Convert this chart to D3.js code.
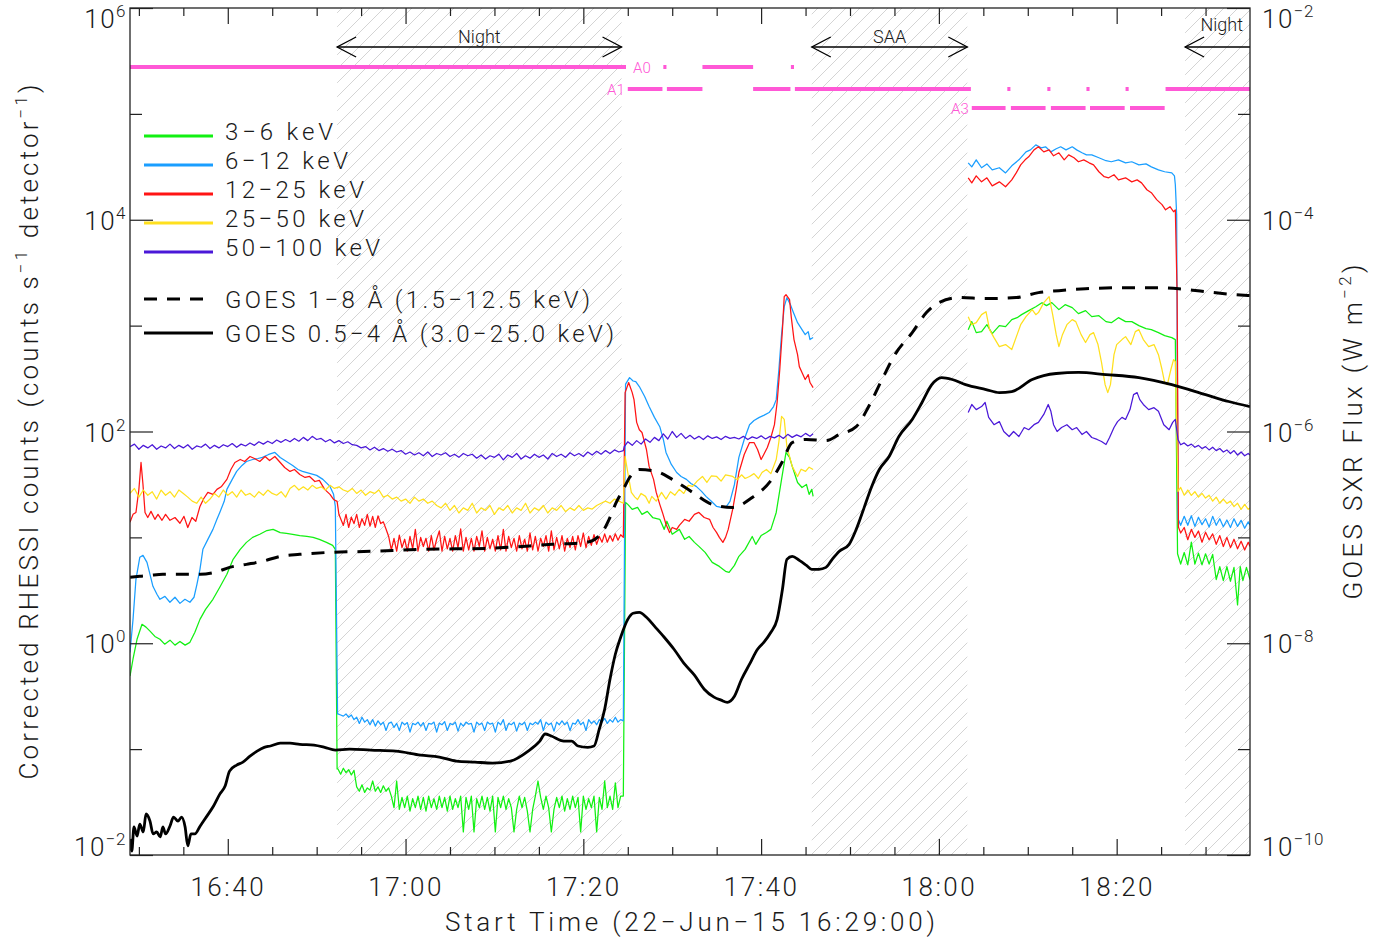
<!DOCTYPE html>
<html>
<head>
<meta charset="utf-8">
<title>RHESSI and GOES light curves, 22 June 2015</title>
<script src="https://cdn.jsdelivr.net/npm/d3@7/dist/d3.min.js"></script>
<style>
  html, body { margin: 0; padding: 0; background: #ffffff; }
  svg { display: block; }
  text { font-family: Roboto, "DejaVu Sans", sans-serif; font-weight: 300; fill: #1a1a1a; }
</style>
</head>
<body>
<svg id="chart" width="1387" height="940"></svg>
<script>
// ---------------------------------------------------------------------------
// Data: time is in minutes after the start time 22-Jun-2015 16:29:00 UT.
// RHESSI rates in counts s^-1 detector^-1, GOES fluxes in W m^-2.
// ---------------------------------------------------------------------------
const startUTC = Date.UTC(2015, 5, 22, 16, 29, 0);
const spanMinutes = 126;

const bandNames = ["3\u22126 keV", "6\u221212 keV", "12\u221225 keV", "25\u221250 keV", "50\u2212100 keV"];
const goesNames = ["GOES 1\u22128 \u00C5 (1.5\u221212.5 keV)", "GOES 0.5\u22124 \u00C5 (3.0\u221225.0 keV)"];

// orbit intervals with no usable RHESSI data
const orbitGaps = [[23.3, 55.3], [76.7, 94.2], [118.7, 126]];
const orbitGapNames = ["Night", "SAA", "Night"];

// attenuator states
const attenA0 = [[0, 55.8], [60.0, 60.35], [64.4, 70.1], [74.35, 74.7]];
const attenA1 = [[56.0, 59.9], [60.4, 64.4], [70.1, 74.3], [74.8, 94.6], [98.7, 99.05], [103.2, 103.55], [107.6, 107.95], [112.0, 112.35], [116.5, 126]];
const attenA3 = [[94.7, 98.5], [99.1, 103.0], [103.6, 107.5], [108.0, 111.9], [112.5, 116.4]];

// ---- 3-6 keV ----
const greenEarly = [[0,0.49],[0.34,0.71],[0.79,1.09],[1.35,1.51],[1.8,1.42],[2.25,1.30],[2.8,1.16],[3.37,1.09],[3.9,0.98],[4.5,1.07],[5.06,0.96],[5.62,1.04],[6.2,0.96],[6.74,1.02],[7.3,1.27],[7.87,1.68],[8.5,2.09],[9.33,2.6],[10.1,3.38],[10.9,4.48],[11.6,6.2],[12.4,7.71],[13.1,8.97],[13.8,10.0],[14.6,10.7],[15.4,11.6],[16.1,11.9],[16.9,11.1],[17.6,10.9],[18.3,10.7],[19.1,10.4],[19.9,10.2],[20.6,10.0],[21.3,9.58],[22.1,8.97],[22.8,8.4],[23.1,7.71],[23.3,0.065]];
const greenNight = [0.065,0.058,0.066,0.060,0.064,0.057,0.063,
  0.044,0.040,0.046,0.039,0.043,0.041,0.050,0.040,0.044,0.039,0.045,0.040,0.043,
  0.036,0.028,0.050,0.027,0.035,0.028,0.036,0.026,0.034,0.028,
  0.036,0.027,0.035,0.026,0.036,0.028,0.034,0.027,0.036,0.028,
  0.035,0.026,0.036,0.027,0.034,0.028,0.036,0.0165,0.035,0.027,
  0.036,0.0165,0.034,0.028,0.036,0.027,0.035,0.026,0.036,0.0165,
  0.035,0.028,0.036,0.027,0.034,0.028,0.0165,0.027,0.036,0.028,
  0.035,0.026,0.0165,0.027,0.036,0.050,0.035,0.027,0.036,0.028,
  0.0165,0.027,0.035,0.028,0.036,0.026,0.034,0.027,0.036,0.028,
  0.035,0.0165,0.036,0.027,0.034,0.028,0.036,0.0165,0.035,0.027,
  0.050,0.028,0.036,0.027,0.048,0.028,0.036];
const greenFlare = [[55.5,0.036],[55.75,21.4],[56.0,20.5],[56.5,18.4],[57.1,19.2],[57.6,16.5],[58.2,17.6],[58.8,15.4],[59.6,14.8],[60.1,11.9],[60.4,14.2],[61.0,10.7],[61.8,11.9],[62.4,9.58],[62.9,10.2],[63.5,8.97],[64.0,8.22],[64.7,7.22],[65.5,5.81],[66.3,5.32],[67.0,4.78],[67.4,4.68],[68.0,5.44],[68.5,6.62],[69.2,7.71],[70.0,10.2],[70.4,8.59],[71.0,10.4],[71.6,11.1],[72.1,11.9],[72.7,17.2],[73.3,35.3],[73.8,63.4],[74.2,56.9],[74.5,46.8],[75.1,33.0],[75.6,29.6],[76.1,31.6],[76.4,25.5],[76.7,28.4],[76.85,24.4]];
const greenLate = [[94.3,916],[94.7,1091],[95.2,859],[95.8,878],[96.4,1021],[97.0,841],[97.8,1000],[98.5,979],[99.2,1140],[99.8,1189],[100.3,1270],[101.1,1387],[101.9,1510],[102.6,1648],[103.1,1545],[103.7,1648],[104.5,1416],[105.2,1578],[106.0,1479],[106.7,1298],[107.5,1387],[108.2,1216],[109.0,1242],[109.8,1091],[110.4,1067],[111.2,1189],[112.0,1091],[112.7,1091],[113.5,1000],[114.3,937],[114.9,916],[115.7,859],[116.4,805],[117.2,771],[117.6,738],[117.85,7.0]];
const greenTail = [[118.2,5.6],[118.6,7.2],[119,5.5],[119.4,9.0],[119.8,5.6],[120.2,7.1],[120.6,5.5],[121,7.0],[121.4,5.6],[121.8,6.9],[122.2,4.0],[122.6,5.3],[123,3.9],[123.4,5.3],[123.8,3.85],[124.2,5.2],[124.6,2.3],[124.9,5.3],[125.2,3.9],[125.6,5.2],[126,4.0]];

// ---- 6-12 keV ----
const blueEarly = [[0,0.82],[0.34,1.68],[0.67,4.02],[1.1,6.48],[1.46,6.76],[1.91,5.81],[2.25,4.48],[2.58,3.45],[3.03,2.90],[3.37,2.60],[3.93,2.77],[4.49,2.44],[5.06,2.72],[5.62,2.38],[6.18,2.60],[6.74,2.44],[7.2,2.72],[7.53,3.60],[7.87,4.99],[8.2,7.71],[8.76,9.58],[9.33,11.9],[9.78,14.8],[10.1,17.2],[10.6,21.9],[10.9,28.4],[11.5,35.3],[12.0,42.0],[12.6,47.8],[13.1,52.1],[13.8,54.4],[14.4,55.6],[14.9,56.9],[15.6,60.7],[16.3,63.4],[16.9,56.9],[17.6,52.1],[18.3,47.8],[18.9,43.8],[19.4,42.0],[20.2,40.2],[21.0,38.5],[21.7,35.3],[22.5,30.3],[22.9,25.5],[23.1,19.6],[23.35,0.215]];
const blueNight = [0.215,0.21,0.205,0.215,0.20,0.21,0.19,0.20,0.175,0.20,
  0.18,0.19,0.17,0.19,0.165,0.185,0.17,0.18,0.15,0.175,
  0.18,0.16,0.175,0.15,0.18,0.17,0.178,0.145,0.175,0.17,
  0.18,0.165,0.178,0.15,0.175,0.172,0.18,0.145,0.176,0.17,
  0.182,0.15,0.175,0.17,0.18,0.148,0.176,0.165,0.18,0.172,
  0.175,0.145,0.18,0.17,0.176,0.15,0.18,0.172,0.176,0.145,
  0.18,0.17,0.19,0.15,0.175,0.17,0.18,0.148,0.176,0.17,
  0.18,0.15,0.176,0.17,0.18,0.172,0.19,0.15,0.18,0.17,
  0.176,0.148,0.18,0.17,0.185,0.17,0.18,0.15,0.176,0.172,
  0.19,0.17,0.18,0.15,0.19,0.175,0.185,0.17,0.19,0.18,
  0.195,0.175,0.19,0.18,0.2,0.18,0.19,0.185];
const blueFlare = [[55.75,280],[56.2,323],[56.6,300],[56.9,296],[57.3,266],[57.9,214],[58.4,172],[59.0,136],[59.6,111],[60.0,84.1],[60.3,63.4],[60.9,48.9],[61.5,41.0],[62.0,37.6],[62.6,35.3],[63.1,32.3],[63.7,30.3],[64.3,27.2],[64.8,24.4],[65.4,21.9],[66.0,19.6],[66.5,19.2],[67.1,19.6],[67.5,21.9],[68.0,31.6],[68.5,56.9],[69.1,84.1],[69.7,116],[70.2,127],[70.8,136],[71.3,142],[71.9,151],[72.4,172],[72.7,200],[73.0,385],[73.3,822],[73.6,1510],[73.9,1837],[74.3,1578],[74.6,1355],[75.1,1067],[75.6,916],[75.96,822],[76.3,878],[76.5,738],[76.85,771]];
const blueLate = [[94.3,34500],[94.7,31600],[95.2,36800],[95.8,31000],[96.4,33700],[97.0,29600],[97.8,31000],[98.5,27700],[99.2,32300],[100.0,36800],[100.8,43800],[101.3,45700],[101.9,51000],[102.5,47800],[103.0,48900],[103.6,43800],[104.2,46800],[104.7,48900],[105.3,45700],[106.0,48900],[106.5,45700],[107.1,42900],[107.6,41000],[108.2,41000],[109.0,38500],[109.8,36100],[110.4,35300],[111.2,36800],[112.0,34500],[112.7,35300],[113.5,33000],[114.3,33700],[114.9,31600],[115.7,29600],[116.4,28400],[117.2,27700],[117.5,26000],[117.6,21400],[117.75,11100],[117.9,15]];
const blueTail = [[118.2,13],[118.6,15.8],[119,13],[119.4,16],[119.8,12.7],[120.2,15.5],[120.6,13.2],[121,15],[121.4,12.5],[121.8,15.8],[122.2,13],[122.6,15],[123,12.6],[123.4,14.6],[123.8,12.4],[124.2,15],[124.6,12.7],[125,14.5],[125.4,12.2],[125.8,14],[126,13]];

// ---- 12-25 keV ----
const redEarly = [[0,13.9],[0.34,16.5],[0.67,17.2],[1.0,28.4],[1.24,51.0],[1.46,31.6],[1.69,17.2],[2.0,15.4],[2.36,17.6],[2.8,14.8],[3.15,16.5],[3.6,14.5],[4.0,16.5],[4.5,14.5],[5.06,15.4],[5.62,13.6],[6.07,15.8],[6.5,12.4],[6.97,15.4],[7.4,14.2],[7.87,19.6],[8.3,23.3],[8.76,26.6],[9.33,25.5],[9.78,28.4],[10.3,30.3],[10.9,35.3],[11.35,43.8],[11.8,51.0],[12.4,54.4],[12.9,52.1],[13.5,58.1],[14.0,55.6],[14.6,52.1],[15.2,58.1],[15.7,53.2],[16.3,58.1],[16.9,51.0],[17.4,45.7],[18.0,42.0],[18.5,43.8],[19.1,39.3],[19.7,36.8],[20.2,37.6],[20.8,33.7],[21.3,34.5],[21.9,28.4],[22.5,25.5],[22.9,22.8],[23.3,21.9],[23.5,16.5]];
const redNight = [15,13,16.5,12.4,15.5,13.5,16.5,12.4,15,13,
  16.5,12.8,15.8,12.4,16,13.5,14,12,10.2,7.6,
  9.8,7.4,10.5,8.0,9.6,7.4,10.2,7.8,11.9,7.4,
  10.0,8.2,9.8,7.4,10.4,7.6,9.6,11.5,7.4,10.2,
  7.8,9.8,7.4,10.4,8.0,12.0,7.4,10.0,7.6,9.8,
  7.4,10.2,8.2,11.5,7.4,10.0,7.8,9.6,7.4,10.4,
  7.6,11.9,7.4,10.2,8.0,9.8,7.4,10.4,7.8,9.6,
  7.4,11.0,7.6,10.2,7.4,9.8,8.2,10.4,7.4,11.5,
  7.6,10.0,7.8,10.4,7.4,9.8,8.0,10.2,7.6,10.4,
  8.2,11.0,8.0,10.2,8.4,10.6,8.6,10.2,9.0,10.8,
  9.0,10.4,9.2,10.8,9.4,10.6];
const redFlare = [[55.5,10],[55.7,233],[56.1,290],[56.5,233],[56.7,200],[57.0,122],[57.3,104],[57.6,97.9],[58.1,67.6],[58.4,46.8],[58.9,35.3],[59.2,26.6],[59.6,20.5],[59.9,17.2],[60.3,13.3],[60.7,11.1],[61.0,12.4],[61.5,11.9],[61.8,13.0],[62.4,14.8],[62.9,14.2],[63.5,16.5],[64.0,17.2],[64.6,15.4],[65.2,14.8],[65.6,12.4],[66.0,11.1],[66.3,10.0],[66.7,8.97],[67.0,10.0],[67.3,11.9],[67.8,18.4],[68.2,28.4],[68.5,41.0],[69.1,60.7],[69.7,78.7],[70.2,78.7],[70.6,67.6],[71.0,54.4],[71.3,60.7],[71.7,70.6],[72.1,87.7],[72.5,116],[72.8,188],[73.1,385],[73.4,916],[73.6,1879],[73.8,1959],[74.2,1758],[74.4,1189],[74.7,738],[75.1,532],[75.3,410],[75.6,361],[75.96,310],[76.3,345],[76.5,290],[76.85,260]];
const redLate = [[94.3,24900],[94.7,22300],[95.2,26000],[95.8,22800],[96.4,24900],[97.0,20900],[97.8,22800],[98.5,20500],[99.2,23800],[99.7,27700],[100.2,33000],[100.7,36800],[101.1,39300],[101.7,45700],[102.2,48900],[102.8,43800],[103.4,45700],[103.9,40200],[104.5,42900],[105.1,36800],[105.6,41000],[106.2,38500],[106.7,35300],[107.3,36800],[107.9,34500],[108.4,33000],[109.0,28400],[109.6,25500],[110.1,24900],[110.7,26600],[111.2,23800],[112.0,24900],[112.7,22800],[113.3,23800],[113.8,22300],[114.4,19200],[114.9,18000],[115.5,15500],[116.1,13900],[116.5,12400],[117.0,13300],[117.4,11900],[117.6,12400],[117.8,2000],[117.95,12.5]];
const redTail = [[118.2,11],[118.6,12.4],[119,9.5],[119.4,11.9],[119.8,10],[120.2,11.5],[120.6,9],[121,11.2],[121.4,9.5],[121.8,10.8],[122.2,8.6],[122.6,10.4],[123,8.2],[123.4,10],[123.8,8],[124.2,9.6],[124.6,7.8],[125,9.2],[125.4,7.6],[125.8,9],[126,8.2]];

// ---- 25-50 keV ----
const yellowEarly = [26,29,24,28,25,27,23,28,25,27,
  24,28,26,24,22,21,24,21,23,26,
  24,28,25,27,24,28,25,26,24,27,
  25,28,26,25,27,24,29,31,28,30,
  28,31,29,30,28,31,29,30,28,27,
  29,26,28,25,27,26,28,24,25,23,
  24,22,23,21,24,22,23,21,22,20,
  19,21,18,20,17,19,18,21,17,19,
  18,20,16.5,19,18,20,17,19,18,21,
  17,19,18,20,17,19,18,20,17.5,19,
  18,20,18,19,18.5,20,21,22,21,23,
  22,21];
const yellowFlare = [[55.7,58.1],[56.0,41.0],[56.4,26.6],[56.8,24],[57.1,22.8],[57.5,26],[58.0,24.4],[58.4,21],[58.7,24.4],[59.2,22],[59.8,26.6],[60.3,23],[60.8,27],[61.3,25],[61.8,28.4],[62.3,26],[62.8,31],[63.3,30.3],[63.8,34],[64.4,37.6],[64.9,33],[65.4,38],[66.0,37.6],[66.5,34],[67.0,39],[67.8,37.6],[68.3,35],[68.8,39],[69.2,36],[69.7,37.6],[70.2,40],[70.7,36],[71.1,41],[71.6,43.8],[72.1,40],[72.7,54.4],[73.0,80],[73.3,139],[73.6,130],[73.9,72.1],[74.5,46.8],[75.1,37.6],[75.5,44],[76.0,42.0],[76.4,46],[76.85,43.8]];
const yellowLate = [[94.3,1216],[94.7,1021],[95.2,1067],[95.8,1270],[96.3,1355],[96.7,916],[97.2,771],[97.8,634],[98.5,662],[99.2,594],[99.8,822],[100.2,1021],[100.8,1216],[101.5,1416],[101.9,1270],[102.2,1327],[102.8,1648],[103.4,1879],[103.8,1270],[104.2,822],[104.5,634],[104.9,822],[105.4,1021],[106.0,1140],[106.4,1091],[107.0,822],[107.5,692],[108.0,822],[108.4,859],[108.9,662],[109.3,448],[109.7,277],[110.0,233],[110.3,277],[110.7,532],[111.0,662],[111.6,738],[112.0,787],[112.6,662],[113.1,878],[113.5,916],[114.0,738],[114.6,634],[115.2,662],[115.7,532],[116.1,385],[116.4,290],[116.7,277],[117.1,385],[117.4,478],[117.6,457],[117.9,27.2]];
const yellowTail = [[118.2,29.6],[118.6,25],[119,28],[119.4,24.9],[119.8,27],[120.2,24],[120.6,26],[121,23.5],[121.4,25],[121.8,22],[122.2,24],[122.6,21],[123,23],[123.4,20.9],[123.8,22],[124.2,19.5],[124.6,21],[125,18.4],[125.4,20.5],[125.8,18.4],[126,19]];

// ---- 50-100 keV ----
const purpleEarly = [72,76,68,74,70,75,68,73,70,76,
  69,74,70,75,68,73,71,76,69,74,
  70,75,72,77,71,76,73,78,74,80,
  76,81,77,83,79,84,80,86,81,88,
  82,90,84,86,80,84,78,82,77,80,
  75,74,70,72,67,71,66,69,65,68,
  64,66,61,64,60,63,59,64,58,62,
  60,63,58,61,57,62,59,61,56,60,
  55,59,57,61,54,60,57,62,55,59,
  56,61,57,60,55,62,58,61,57,63,
  59,62,58,64,60,65,61,66,62,67,
  64,66];
const purpleFlare = [[55.6,72],[56,80],[56.5,74],[57,82],[57.5,76],[58,85],[58.5,79],[59,88],[59.5,82],[60,95],[60.5,85],[61,100],[61.5,88],[62,96],[62.5,86],[63,92],[63.5,85],[64,90],[64.5,84],[65,91],[65.5,86],[66,89],[66.5,84],[67,90],[67.5,86],[68,88],[68.5,85],[69,90],[69.5,84],[70,89],[70.5,86],[71,91],[71.5,85],[72,90],[72.5,87],[73,92],[73.5,86],[74,94],[74.5,88],[75,93],[75.5,89],[76,96],[76.5,90],[76.85,95]];
const purpleLate = [[94.3,151],[94.7,180],[95.2,161],[95.8,172],[96.2,188],[96.6,136],[97.2,116],[97.8,124],[98.3,100],[98.9,89.7],[99.4,100],[100.0,89.7],[100.6,109],[101.1,104],[101.7,116],[102.2,122],[102.8,145],[103.3,180],[103.6,155],[103.9,116],[104.3,100],[104.8,109],[105.4,116],[106.0,104],[106.5,109],[107.1,93.7],[107.6,100],[108.2,87.7],[108.8,84.1],[109.3,80.5],[109.8,75.4],[110.2,87.7],[110.7,109],[111.1,124],[111.6,136],[112.0,130],[112.5,161],[112.9,223],[113.3,233],[113.6,200],[114.0,180],[114.6,161],[115.2,168],[115.7,155],[116.3,116],[116.9,104],[117.3,122],[117.6,130],[117.9,84.1]];
const purpleTail = [[118.2,75],[118.6,78],[119,73],[119.4,76],[119.8,71],[120.2,74],[120.6,69],[121,72],[121.4,67],[121.8,71],[122.2,66],[122.6,69],[123,64],[123.4,67],[123.8,62],[124.2,66],[124.6,60],[125,64],[125.4,59],[125.8,62],[126,60]];

// ---- GOES 1-8 A ----
const goesLong = [[0,4.2e-8],[1.1,4.29e-8],[2.25,4.38e-8],[3.7,4.48e-8],[5.6,4.48e-8],[7.9,4.48e-8],[9.6,4.68e-8],[11.2,5.21e-8],[13.1,5.56e-8],[14.9,5.94e-8],[16.9,6.62e-8],[19.1,6.92e-8],[22.5,7.22e-8],[27.0,7.38e-8],[32.6,7.71e-8],[40.1,7.87e-8],[47.5,8.59e-8],[51.3,8.97e-8],[53.1,1.11e-7],[53.9,1.48e-7],[54.7,2.14e-7],[55.5,2.84e-7],[56.2,3.68e-7],[57.3,4.38e-7],[59.2,4.2e-7],[61.0,3.53e-7],[63.3,2.66e-7],[65.5,2.05e-7],[67.8,1.92e-7],[70.0,2.38e-7],[72.2,3.53e-7],[73.4,5.21e-7],[74.5,7.87e-7],[76.1,8.41e-7],[78.3,8.22e-7],[79.8,9.37e-7],[81.7,1.11e-6],[83.1,1.72e-6],[84.6,3.1e-6],[86.2,5.56e-6],[88.0,8.59e-6],[89.6,1.33e-5],[91.0,1.65e-5],[93.3,1.84e-5],[96.3,1.8e-5],[99.7,1.84e-5],[102.2,2.05e-5],[104.5,2.14e-5],[107.5,2.23e-5],[111.6,2.28e-5],[115.4,2.28e-5],[118.0,2.23e-5],[121.0,2.09e-5],[124.4,1.96e-5],[126,1.92e-5]];

// ---- GOES 0.5-4 A ----
const goesShort = [[0,1.42e-10],[0.2,1.09e-10],[0.45,1.84e-10],[0.8,1.51e-10],[1.1,1.96e-10],[1.5,1.65e-10],[1.8,2.44e-10],[2.25,2.09e-10],[2.6,1.58e-10],[3.0,1.65e-10],[3.4,1.48e-10],[3.7,1.84e-10],[4.0,1.58e-10],[4.5,1.88e-10],[4.9,2.28e-10],[5.4,2.09e-10],[5.8,2.28e-10],[6.2,1.84e-10],[6.5,1.22e-10],[6.85,1.58e-10],[7.3,1.58e-10],[7.9,1.88e-10],[8.65,2.33e-10],[9.4,2.9e-10],[10.1,3.76e-10],[10.7,4.48e-10],[11.2,6.2e-10],[12.0,7.06e-10],[12.7,7.54e-10],[13.5,8.59e-10],[14.3,9.58e-10],[15.1,1.04e-9],[15.8,1.07e-9],[16.9,1.14e-9],[18.0,1.14e-9],[19.1,1.11e-9],[20.7,1.09e-9],[21.9,1.04e-9],[23.1,9.79e-10],[24.7,1.0e-9],[27.1,9.79e-10],[29.9,9.58e-10],[32.7,8.78e-10],[34.8,8.41e-10],[36.7,7.71e-10],[38.8,7.54e-10],[40.8,7.38e-10],[42.8,7.71e-10],[44.8,9.58e-10],[46.1,1.19e-9],[46.7,1.39e-9],[47.4,1.33e-9],[48.8,1.19e-9],[49.7,1.19e-9],[50.4,1.07e-9],[51.5,1.04e-9],[52.2,1.07e-9],[52.8,1.55e-9],[53.4,2.38e-9],[54.0,4.57e-9],[54.6,7.87e-9],[55.2,1.14e-8],[56.0,1.68e-8],[56.6,1.92e-8],[57.3,1.96e-8],[58.1,1.76e-8],[59.0,1.45e-8],[60.1,1.14e-8],[61.2,8.78e-9],[62.4,6.34e-9],[63.5,4.99e-9],[64.6,3.68e-9],[65.7,3.1e-9],[66.5,2.9e-9],[67.2,2.77e-9],[68.0,3.16e-9],[68.8,4.57e-9],[69.7,6.34e-9],[70.6,8.78e-9],[71.3,1.02e-8],[72.1,1.27e-8],[72.8,1.68e-8],[73.4,3.23e-8],[73.9,6.2e-8],[74.5,6.62e-8],[75.3,6.07e-8],[76.1,5.44e-8],[76.7,4.99e-8],[77.5,4.99e-8],[78.3,5.21e-8],[79.0,6.2e-8],[79.8,7.38e-8],[80.9,8.59e-8],[81.7,1.19e-7],[82.6,1.92e-7],[83.4,2.96e-7],[84.3,4.38e-7],[85.4,5.81e-7],[86.5,8.97e-7],[88.0,1.3e-6],[89.1,1.88e-6],[90.2,2.77e-6],[91.3,3.23e-6],[92.5,3.1e-6],[94.0,2.77e-6],[96.3,2.49e-6],[97.8,2.33e-6],[99.2,2.38e-6],[101.5,3.1e-6],[104.2,3.53e-6],[106.7,3.61e-6],[109.8,3.45e-6],[113.5,3.23e-6],[117.2,2.77e-6],[121.0,2.23e-6],[123.6,1.92e-6],[126,1.72e-6]];

const countTicks = [1e-2, 1e-1, 1, 1e1, 1e2, 1e3, 1e4, 1e5, 1e6];
const fluxTicks = [1e-10, 1e-9, 1e-8, 1e-7, 1e-6, 1e-5, 1e-4, 1e-3, 1e-2];

// ---------------------------------------------------------------------------
// Assembly helpers
// ---------------------------------------------------------------------------
const sampled = (t0, dt, vals) => vals.map((v, i) => [t0 + dt * i, v]);
const gapAt = t => [[t, null]];

const bandSeries = [
  [...greenEarly, ...sampled(23.4, 0.3, greenNight), ...greenFlare, ...gapAt(85), ...greenLate, ...greenTail],
  [...blueEarly, ...sampled(23.4, 0.3, blueNight), ...blueFlare, ...gapAt(85), ...blueLate, ...blueTail],
  [...redEarly, ...sampled(23.7, 0.3, redNight), ...redFlare, ...gapAt(85), ...redLate, ...redTail],
  [...sampled(0, 0.5, yellowEarly), ...yellowFlare, ...gapAt(85), ...yellowLate, ...yellowTail],
  [...sampled(0, 0.5, purpleEarly), ...purpleFlare, ...gapAt(85), ...purpleLate, ...purpleTail]
];
const bandColors = ["#12f012", "#1a9eff", "#ff1414", "#ffe01e", "#4a18d8"];
const pink = "#ff58d6";

// ---------------------------------------------------------------------------
// Layout and scales
// ---------------------------------------------------------------------------
const frame = { left: 130, right: 1250, top: 8, bottom: 855 };
const toDate = m => new Date(startUTC + m * 60000);

const x = d3.scaleUtc().domain([toDate(0), toDate(spanMinutes)]).range([frame.left, frame.right]);
const yCounts = d3.scaleLog().domain([1e-2, 1e6]).range([frame.bottom, frame.top]);
const yFlux = d3.scaleLog().domain([1e-10, 1e-2]).range([frame.bottom, frame.top]);

const svg = d3.select("#chart");
const defs = svg.append("defs");

const hatch = defs.append("pattern")
  .attr("id", "hatch").attr("patternUnits", "userSpaceOnUse")
  .attr("width", 14).attr("height", 14);
hatch.append("path")
  .attr("d", "M-2,2 L2,-2 M0,14 L14,0 M12,16 L16,12")
  .attr("stroke", "#d4d4d4").attr("stroke-width", 1).attr("fill", "none");

defs.append("clipPath").attr("id", "plotClip").append("rect")
  .attr("x", frame.left).attr("y", frame.top)
  .attr("width", frame.right - frame.left).attr("height", frame.bottom - frame.top);

// shaded night / SAA intervals
svg.append("g").selectAll("rect").data(orbitGaps).join("rect")
  .attr("x", d => x(toDate(d[0])))
  .attr("width", d => x(toDate(d[1])) - x(toDate(d[0])))
  .attr("y", frame.top).attr("height", frame.bottom - frame.top)
  .attr("fill", "url(#hatch)");

// ---------------------------------------------------------------------------
// Curves
// ---------------------------------------------------------------------------
const plotG = svg.append("g").attr("clip-path", "url(#plotClip)");

const countLine = d3.line()
  .defined(d => d[1] != null)
  .x(d => x(toDate(d[0])))
  .y(d => yCounts(d[1]));
const fluxLine = d3.line()
  .x(d => x(toDate(d[0])))
  .y(d => yFlux(d[1]))
  .curve(d3.curveMonotoneX);

plotG.selectAll("path.band").data(bandSeries).join("path")
  .attr("class", "band")
  .attr("d", countLine)
  .attr("fill", "none")
  .attr("stroke", (d, i) => bandColors[i])
  .attr("stroke-width", 1.25)
  .attr("stroke-linejoin", "round");

plotG.append("path").datum(goesLong)
  .attr("d", fluxLine).attr("fill", "none")
  .attr("stroke", "#000").attr("stroke-width", 3)
  .attr("stroke-dasharray", "13,10");
plotG.append("path").datum(goesShort)
  .attr("d", fluxLine).attr("fill", "none")
  .attr("stroke", "#000").attr("stroke-width", 2.8)
  .attr("stroke-linejoin", "round");

// ---------------------------------------------------------------------------
// Attenuator state bars
// ---------------------------------------------------------------------------
const attenRows = [
  { name: "A0", spans: attenA0, y: 67, labelAfterFirst: true },
  { name: "A1", spans: attenA1, y: 89, labelAfterFirst: false },
  { name: "A3", spans: attenA3, y: 108, labelAfterFirst: false }
];
const attenG = svg.append("g");
attenRows.forEach(row => {
  attenG.append("g").selectAll("line").data(row.spans).join("line")
    .attr("x1", d => x(toDate(d[0]))).attr("x2", d => x(toDate(d[1])))
    .attr("y1", row.y).attr("y2", row.y)
    .attr("stroke", pink).attr("stroke-width", 4);
  const first = row.spans[0];
  attenG.append("text")
    .attr("x", row.labelAfterFirst ? x(toDate(first[1])) + 7 : x(toDate(first[0])) - 3)
    .attr("y", row.y + 5.5)
    .attr("text-anchor", row.labelAfterFirst ? "start" : "end")
    .attr("font-size", 15)
    .style("fill", pink)
    .text(row.name);
});

// ---------------------------------------------------------------------------
// Night / SAA arrows
// ---------------------------------------------------------------------------
const arrowY = 47;
const arrowG = svg.append("g").attr("stroke", "#000").attr("stroke-width", 1.3).attr("fill", "none");
orbitGaps.forEach((g, i) => {
  const x0 = x(toDate(g[0])), x1 = x(toDate(g[1]));
  const atEdge = g[1] >= spanMinutes;
  arrowG.append("line").attr("x1", x0).attr("x2", x1).attr("y1", arrowY).attr("y2", arrowY);
  arrowG.append("path").attr("d", `M${x0 + 19},${arrowY - 10} L${x0},${arrowY} L${x0 + 19},${arrowY + 10}`);
  if (!atEdge) {
    arrowG.append("path").attr("d", `M${x1 - 19},${arrowY - 10} L${x1},${arrowY} L${x1 - 19},${arrowY + 10}`);
  }
  svg.append("text")
    .attr("x", atEdge ? x1 - 7 : (x0 + x1) / 2)
    .attr("y", atEdge ? 31 : 43)
    .attr("text-anchor", atEdge ? "end" : "middle")
    .attr("font-size", 18)
    .text(orbitGapNames[i]);
});

// ---------------------------------------------------------------------------
// Axes
// ---------------------------------------------------------------------------
const tickStroke = g => g.selectAll("line").attr("stroke", "#222").attr("stroke-width", 1.2);
const noDomain = g => g.select(".domain").remove();

const majorTimes = d3.utcMinute.every(20).range(toDate(0), toDate(spanMinutes));
const minorTimes = d3.utcMinute.every(5).range(toDate(0), toDate(spanMinutes))
  .filter(t => t.getUTCMinutes() % 20 !== 0);

// bottom
svg.append("g").attr("transform", `translate(0,${frame.bottom})`)
  .call(d3.axisBottom(x).tickValues(majorTimes).tickSize(-16).tickPadding(23)
    .tickFormat(d3.utcFormat("%H:%M")))
  .call(noDomain).call(tickStroke)
  .call(g => g.selectAll("text")
    .attr("font-size", 26).attr("font-family", null)
    .style("letter-spacing", "2.5px").style("fill", "#1a1a1a"));
svg.append("g").attr("transform", `translate(0,${frame.bottom})`)
  .call(d3.axisBottom(x).tickValues(minorTimes).tickSize(-8).tickFormat(""))
  .call(noDomain).call(tickStroke);
// top
svg.append("g").attr("transform", `translate(0,${frame.top})`)
  .call(d3.axisTop(x).tickValues(majorTimes).tickSize(-16).tickFormat(""))
  .call(noDomain).call(tickStroke);
svg.append("g").attr("transform", `translate(0,${frame.top})`)
  .call(d3.axisTop(x).tickValues(minorTimes).tickSize(-8).tickFormat(""))
  .call(noDomain).call(tickStroke);

const isEvenPower = v => Math.round(Math.log10(v)) % 2 === 0;
// left
svg.append("g").attr("transform", `translate(${frame.left},0)`)
  .call(d3.axisLeft(yCounts).tickValues(countTicks.filter(isEvenPower)).tickSize(-23).tickFormat(""))
  .call(noDomain).call(tickStroke);
svg.append("g").attr("transform", `translate(${frame.left},0)`)
  .call(d3.axisLeft(yCounts).tickValues(countTicks.filter(v => !isEvenPower(v))).tickSize(-12).tickFormat(""))
  .call(noDomain).call(tickStroke);
// right
svg.append("g").attr("transform", `translate(${frame.right},0)`)
  .call(d3.axisRight(yFlux).tickValues(fluxTicks.filter(isEvenPower)).tickSize(-23).tickFormat(""))
  .call(noDomain).call(tickStroke);
svg.append("g").attr("transform", `translate(${frame.right},0)`)
  .call(d3.axisRight(yFlux).tickValues(fluxTicks.filter(v => !isEvenPower(v))).tickSize(-12).tickFormat(""))
  .call(noDomain).call(tickStroke);

// power-of-ten labels
function powerLabels(values, scale, xPos, anchor) {
  const g = svg.append("g");
  const n = values.length;
  values.forEach((v, i) => {
    const py = scale(v);
    const shift = i === 0 ? 1 : (i === n - 1 ? 20 : 10);
    const t = g.append("text")
      .attr("x", xPos).attr("y", py + shift)
      .attr("text-anchor", anchor)
      .attr("font-size", 26).style("letter-spacing", "1.5px");
    t.append("tspan").text("10");
    const e = Math.round(Math.log10(v));
    t.append("tspan").attr("dy", -11).attr("font-size", 17).style("letter-spacing", "0.5px")
      .text(e < 0 ? "\u2212" + (-e) : String(e));
  });
}
powerLabels(countTicks.filter(isEvenPower), yCounts, 126, "end");
powerLabels(fluxTicks.filter(isEvenPower), yFlux, 1262, "start");

// frame
svg.append("rect")
  .attr("x", frame.left).attr("y", frame.top)
  .attr("width", frame.right - frame.left).attr("height", frame.bottom - frame.top)
  .attr("fill", "none").attr("stroke", "#222").attr("stroke-width", 1.3);

// axis titles
svg.append("text")
  .attr("x", 690).attr("y", 931)
  .attr("text-anchor", "middle").attr("font-size", 26)
  .attr("textLength", 490).attr("lengthAdjust", "spacing")
  .text("Start Time (22\u2212Jun\u221215 16:29:00)");

function titleWithSup(parts, tx, ty, len) {
  const t = svg.append("text")
    .attr("transform", `translate(${tx},${ty}) rotate(-90)`)
    .attr("text-anchor", "middle").attr("font-size", 26)
    .attr("textLength", len).attr("lengthAdjust", "spacing");
  let raised = false;
  parts.forEach(p => {
    const ts = t.append("tspan").text(p.s);
    if (p.sup && !raised) { ts.attr("dy", -11).attr("font-size", 17); raised = true; }
    else if (!p.sup && raised) { ts.attr("dy", 11); raised = false; }
    else if (p.sup) { ts.attr("font-size", 17); }
  });
}
titleWithSup([
  { s: "Corrected RHESSI counts (counts s" }, { s: "\u22121", sup: true },
  { s: " detector" }, { s: "\u22121", sup: true }, { s: ")" }
], 38, 432, 695);
titleWithSup([
  { s: "GOES SXR Flux (W m" }, { s: "\u22122", sup: true }, { s: ")" }
], 1362, 432, 335);

// ---------------------------------------------------------------------------
// Legend
// ---------------------------------------------------------------------------
const legendG = svg.append("g");
const bandTextWidths = [108, 123, 139, 139, 155];
bandNames.forEach((name, i) => {
  const ly = 136 + 29 * i;
  legendG.append("line").attr("x1", 144).attr("x2", 213).attr("y1", ly).attr("y2", ly)
    .attr("stroke", bandColors[i]).attr("stroke-width", 3);
  legendG.append("text").attr("x", 225).attr("y", ly + 4)
    .attr("font-size", 24).attr("textLength", bandTextWidths[i]).attr("lengthAdjust", "spacing")
    .text(name);
});
const goesTextWidths = [365, 389];
goesNames.forEach((name, i) => {
  const ly = 299 + 34 * i;
  legendG.append("line").attr("x1", 144).attr("x2", 213).attr("y1", ly).attr("y2", ly)
    .attr("stroke", "#000").attr("stroke-width", 3)
    .attr("stroke-dasharray", i === 0 ? "13,10" : null);
  legendG.append("text").attr("x", 225).attr("y", ly + 9)
    .attr("font-size", 24).attr("textLength", goesTextWidths[i]).attr("lengthAdjust", "spacing")
    .text(name);
});
</script>
</body>
</html>
